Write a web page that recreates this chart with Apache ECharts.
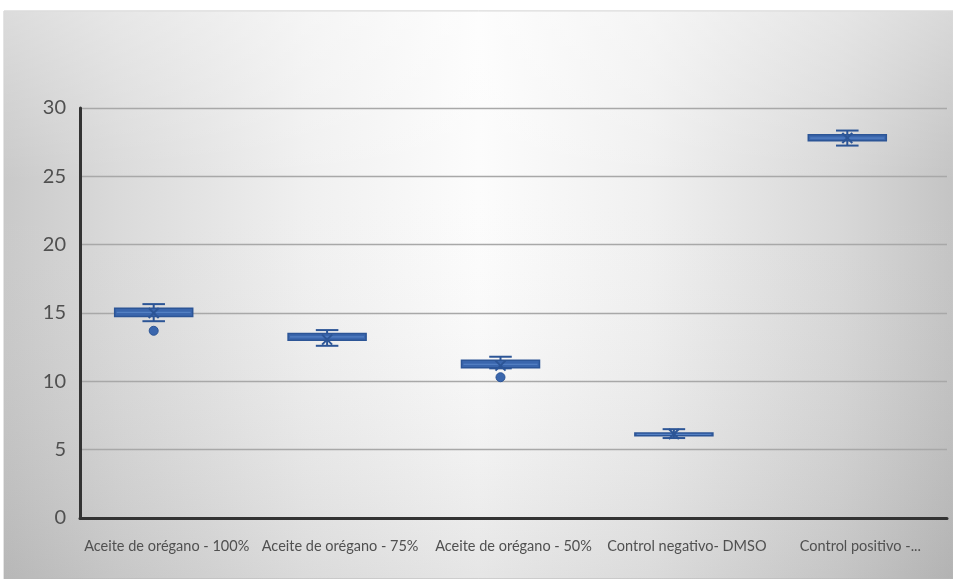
<!DOCTYPE html>
<html>
<head>
<meta charset="utf-8">
<script src="https://cdn.jsdelivr.net/npm/echarts@6/dist/echarts.min.js"></script>
<style>
  html, body { margin: 0; padding: 0; background: #ffffff; }
  #chart { width: 953px; height: 579px; }
</style>
</head>
<body>
<div id="chart"></div>
<script>
// Inhibition zone measurements per treatment (box-and-whisker summary)
const categories = [
  'Aceite de orégano - 100%',
  'Aceite de orégano - 75%',
  'Aceite de orégano - 50%',
  'Control negativo- DMSO',
  'Control positivo -...'
];
const whiskerLow  = [14.40, 12.60, 10.95, 5.85, 27.25];
const quartile1   = [14.75, 13.00, 11.00, 6.02, 27.60];
const medians     = [15.05, 13.25, 11.25, 6.12, 27.80];
const quartile3   = [15.35, 13.50, 11.55, 6.22, 28.05];
const whiskerHigh = [15.65, 13.75, 11.80, 6.50, 28.35];
const means       = [15.00, 13.05, 11.15, 6.15, 27.80];
const outlierCat  = [0, 2];
const outlierVal  = [13.70, 10.30];
const yTicks = { min: 0, max: 30, interval: 5 };

const boxData = categories.map((c, i) => [i, whiskerLow[i], quartile1[i], medians[i], quartile3[i], whiskerHigh[i], means[i]]);
const outlierData = outlierCat.map((c, i) => [c, outlierVal[i]]);

const BOX_BLUE = '#3a66ad';
const BOX_EDGE = '#2c5596';
const BOX_SHIFT = -0.075;   // boxes sit slightly left of the category centre
const BOX_WIDTH = 0.45;
const CAP_WIDTH = 0.13;

function boxRender(params, api) {
  const idx = api.value(0);
  const band = api.size([1, 0])[0];
  const cx = api.coord([idx, 0])[0] + band * BOX_SHIFT;
  const yLo = api.coord([idx, api.value(1)])[1];
  const yQ1 = api.coord([idx, api.value(2)])[1];
  const yMd = api.coord([idx, api.value(3)])[1];
  const yQ3 = api.coord([idx, api.value(4)])[1];
  const yHi = api.coord([idx, api.value(5)])[1];
  const yMn = api.coord([idx, api.value(6)])[1];
  const bw = band * BOX_WIDTH;
  const cw = band * CAP_WIDTH;
  const m = 5;
  const lineStyle = { stroke: BOX_EDGE, lineWidth: 2 };
  return {
    type: 'group',
    children: [
      { type: 'line', shape: { x1: cx, y1: yHi, x2: cx, y2: yLo }, style: lineStyle },
      { type: 'line', shape: { x1: cx - cw / 2, y1: yHi, x2: cx + cw / 2, y2: yHi }, style: lineStyle },
      { type: 'line', shape: { x1: cx - cw / 2, y1: yLo, x2: cx + cw / 2, y2: yLo }, style: lineStyle },
      { type: 'rect', shape: { x: cx - bw / 2, y: yQ3, width: bw, height: Math.max(yQ1 - yQ3, 2) },
        style: { fill: BOX_BLUE, stroke: BOX_EDGE, lineWidth: 1.5 } },
      { type: 'line', shape: { x1: cx - bw / 2 + 2, y1: yMd, x2: cx + bw / 2 - 2, y2: yMd },
        style: { stroke: '#5a86c8', lineWidth: 1 } },
      { type: 'line', shape: { x1: cx - m, y1: yMn - m, x2: cx + m, y2: yMn + m }, style: { stroke: BOX_EDGE, lineWidth: 2 } },
      { type: 'line', shape: { x1: cx - m, y1: yMn + m, x2: cx + m, y2: yMn - m }, style: { stroke: BOX_EDGE, lineWidth: 2 } }
    ]
  };
}

function outlierRender(params, api) {
  const idx = api.value(0);
  const band = api.size([1, 0])[0];
  const p = api.coord([idx, api.value(1)]);
  return {
    type: 'circle',
    shape: { cx: p[0] + band * BOX_SHIFT, cy: p[1], r: 4.5 },
    style: { fill: BOX_BLUE, stroke: BOX_EDGE, lineWidth: 1 }
  };
}

const chart = echarts.init(document.getElementById('chart'), null, { renderer: 'canvas' });
chart.setOption({
  animation: false,
  backgroundColor: '#ffffff',
  graphic: [
    {
      // light centre fading to grey towards the side edges
      type: 'rect',
      z: -10,
      silent: true,
      shape: { x: 4, y: 11, width: 949, height: 568 },
      style: {
        fill: new echarts.graphic.LinearGradient(0, 0, 1, 0, [
          { offset: 0, color: '#c9c9c9' },
          { offset: 0.12, color: '#dadada' },
          { offset: 0.32, color: '#f0f0f0' },
          { offset: 0.5, color: '#fcfcfc' },
          { offset: 0.68, color: '#f0f0f0' },
          { offset: 0.88, color: '#d8d8d8' },
          { offset: 1, color: '#c4c4c4' }
        ]),
        stroke: '#c8c8c8',
        lineWidth: 1
      }
    },
    {
      // slight darkening towards the bottom
      type: 'rect',
      z: -9,
      silent: true,
      shape: { x: 4, y: 11, width: 949, height: 568 },
      style: {
        fill: new echarts.graphic.LinearGradient(0, 0, 0, 1, [
          { offset: 0, color: 'rgba(255,255,255,0.35)' },
          { offset: 0.3, color: 'rgba(255,255,255,0)' },
          { offset: 1, color: 'rgba(0,0,0,0.09)' }
        ])
      }
    }
  ],
  grid: { left: 80, right: 6, top: 108, bottom: 61, containLabel: false },
  xAxis: {
    type: 'category',
    data: categories,
    axisLine: { lineStyle: { color: '#333333', width: 3 } },
    axisTick: { show: false },
    axisLabel: { color: '#505050', fontSize: 14.5, fontFamily: 'Lato', margin: 21, interval: 0 },
    splitLine: { show: false }
  },
  yAxis: {
    type: 'value',
    min: yTicks.min,
    max: yTicks.max,
    interval: yTicks.interval,
    axisLine: { show: true, lineStyle: { color: '#333333', width: 3 } },
    axisTick: { show: false },
    axisLabel: { color: '#505050', fontSize: 20, fontFamily: 'Lato', margin: 14 },
    splitLine: { lineStyle: { color: '#a8a8a8', width: 1.3 } }
  },
  series: [
    { type: 'custom', renderItem: boxRender, data: boxData, encode: { x: 0, y: [1, 2, 3, 4, 5, 6] }, z: 3 },
    { type: 'custom', renderItem: outlierRender, data: outlierData, encode: { x: 0, y: 1 }, z: 4 }
  ]
});
</script>
</body>
</html>
